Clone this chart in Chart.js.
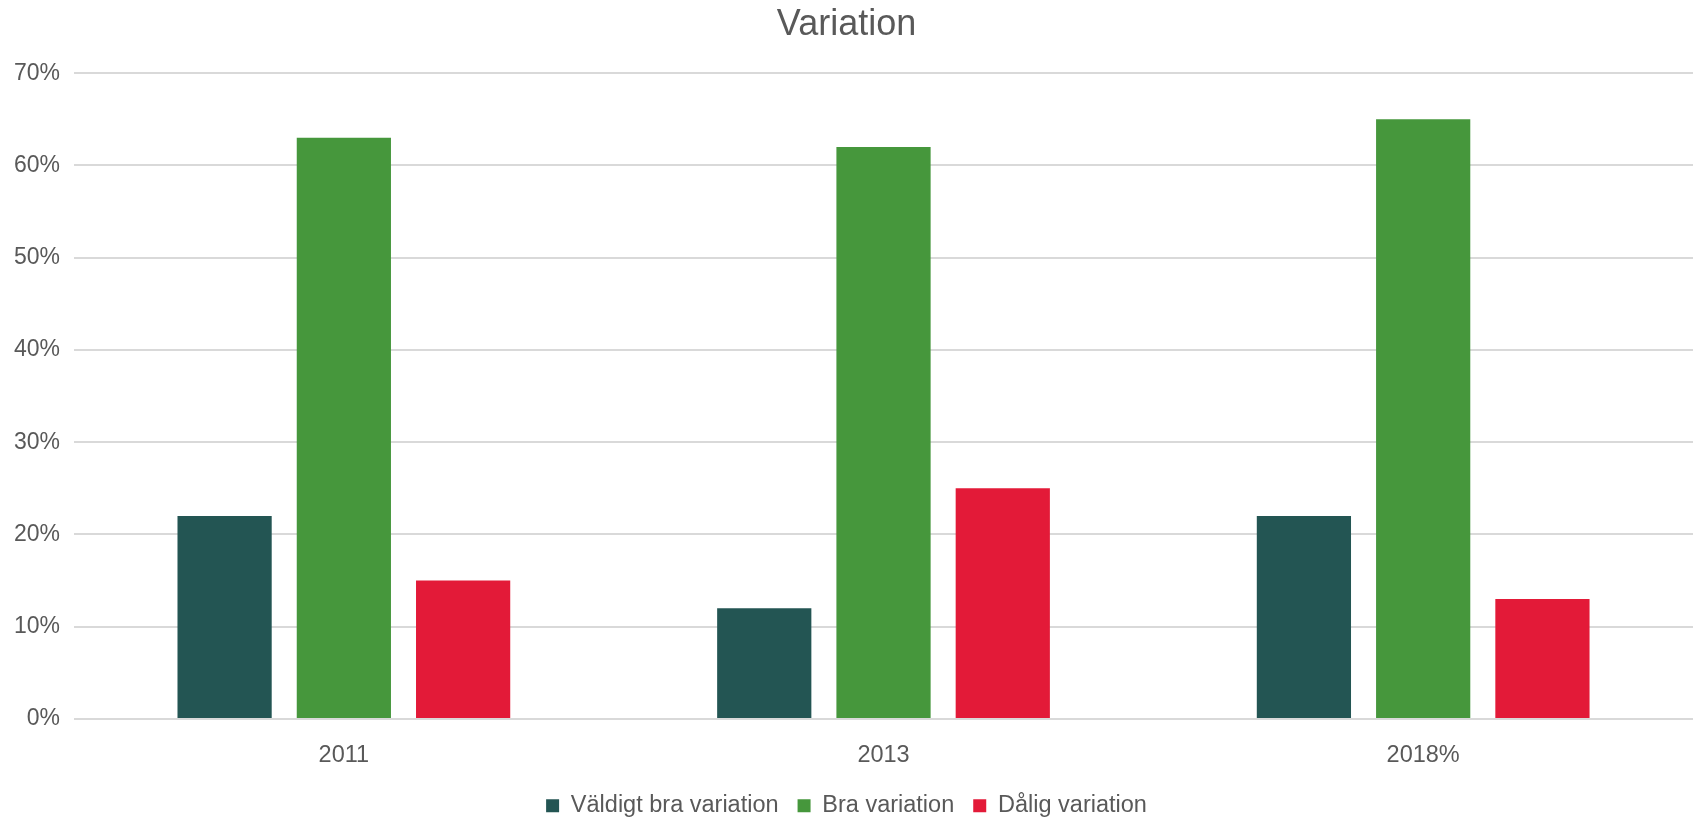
<!DOCTYPE html>
<html>
<head>
<meta charset="utf-8">
<script src="https://cdn.jsdelivr.net/npm/chart.js@4"></script>
<style>
  html, body { margin: 0; padding: 0; background: #fff; }
  #wrap { width: 1699px; height: 819px; }
</style>
</head>
<body>
<div id="wrap"><canvas id="chart"></canvas></div>
<script>
var years = ["2011", "2013", "2018%"];
var valdigtBra = [22, 12, 22];
var bra = [63, 62, 65];
var dalig = [15, 25, 13];

Chart.defaults.font.family = "'Liberation Sans', Arial, sans-serif";
Chart.defaults.color = "#595959";

var chart = new Chart(document.getElementById("chart"), {
  type: "bar",
  data: {
    labels: years,
    datasets: [
      {
        label: "Väldigt bra variation",
        data: valdigtBra,
        backgroundColor: "#235553",
      },
      {
        label: "Bra variation",
        data: bra,
        backgroundColor: "#46973C",
      },
      {
        label: "Dålig variation",
        data: dalig,
        backgroundColor: "#E31A38",
      },
    ],
  },
  options: {
    responsive: true,
    maintainAspectRatio: false,
    animation: false,
    categoryPercentage: 0.663,
    barPercentage: 0.79,
    layout: { padding: { left: 0, right: 6, top: 0, bottom: 0 } },
    plugins: {
      title: {
        display: true,
        text: "Variation",
        color: "#595959",
        font: { size: 36, weight: "normal" },
        padding: { top: 3, bottom: 27 },
      },
      legend: {
        position: "bottom",
        maxHeight: 44,
        labels: {
          boxWidth: 13,
          boxHeight: 13,
          padding: 19,
          color: "#595959",
          font: { size: 23.5 },
        },
      },
      tooltip: { enabled: false },
    },
    scales: {
      x: {
        grid: { display: false, drawTicks: false },
        border: { display: false },
        ticks: { padding: 22, font: { size: 23.5 }, color: "#595959" },
        // keep the axis band short so the legend sits low like the original
        afterFit: function (scale) { scale.height = 56; },
      },
      y: {
        min: 0,
        max: 70,
        grid: { color: "#D9D9D9", lineWidth: 2, drawTicks: false },
        border: { display: false },
        ticks: {
          stepSize: 10,
          padding: 14,
          font: { size: 23 },
          color: "#595959",
          callback: function (v) { return v + "%"; },
        },
      },
    },
  },
});
</script>
</body>
</html>
